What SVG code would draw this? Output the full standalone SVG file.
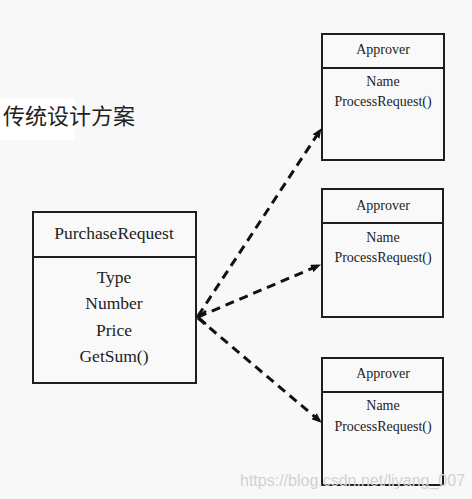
<svg xmlns="http://www.w3.org/2000/svg" width="472" height="499" viewBox="0 0 472 499">
<style>
.box{fill:#f9f9f9;stroke:#1e1e1e;stroke-width:2}
.div{stroke:#1e1e1e;stroke-width:2}
.t{font-family:"Liberation Serif","Times New Roman",serif;fill:#222;text-anchor:middle}
.big{font-size:17.5px}
.sm{font-size:14px}
.conn{fill:none;stroke:#111;stroke-width:3;stroke-dasharray:9 6}
</style>
<defs>
<marker id="ah" markerUnits="userSpaceOnUse" markerWidth="10" markerHeight="8" refX="9" refY="4" orient="auto">
<path d="M0,0 L10,4 L0,8 z" fill="#111"/>
</marker>
</defs>
<rect width="472" height="499" fill="#f8f8f8"/>
<rect x="0" y="98" width="75" height="42" fill="#ffffff"/>
<text x="3" y="124" font-family="'Noto Sans CJK SC',sans-serif" font-size="22" fill="#222">传统设计方案</text>

<g id="purchase">
<rect class="box" x="33" y="212" width="163" height="171"/>
<line class="div" x1="33" y1="257" x2="196" y2="257"/>
<text class="t big" x="114" y="239">PurchaseRequest</text>
<text class="t big" x="114" y="283">Type</text>
<text class="t big" x="114" y="309">Number</text>
<text class="t big" x="114" y="336">Price</text>
<text class="t big" x="114" y="362">GetSum()</text>
</g>

<g id="approver1">
<rect class="box" x="322" y="34" width="122" height="126"/>
<line class="div" x1="322" y1="68" x2="444" y2="68"/>
<text class="t sm" x="383" y="54">Approver</text>
<text class="t sm" x="383" y="86">Name</text>
<text class="t sm" x="383" y="106">ProcessRequest()</text>
</g>

<g id="approver2">
<rect class="box" x="322" y="189" width="121" height="128"/>
<line class="div" x1="322" y1="223" x2="443" y2="223"/>
<text class="t sm" x="383" y="210">Approver</text>
<text class="t sm" x="383" y="242">Name</text>
<text class="t sm" x="383" y="262">ProcessRequest()</text>
</g>

<g id="approver3">
<rect class="box" x="322" y="358" width="121" height="127"/>
<line class="div" x1="322" y1="392" x2="443" y2="392"/>
<text class="t sm" x="383" y="378">Approver</text>
<text class="t sm" x="383" y="410">Name</text>
<text class="t sm" x="383" y="431">ProcessRequest()</text>
</g>

<g id="connectors">
<line class="conn" x1="198" y1="316" x2="321" y2="129" marker-end="url(#ah)"/>
<line class="conn" x1="198" y1="317" x2="320" y2="265" marker-end="url(#ah)"/>
<line class="conn" x1="198" y1="318" x2="321" y2="422" marker-end="url(#ah)"/>
<polyline points="206,311 198,317 206,324" fill="none" stroke="#111" stroke-width="2.5"/>
</g>

<text x="240" y="486" font-family="'Liberation Sans',Arial,sans-serif" font-size="16" fill="#d2d2d2">https://blog.csdn.net/liyang_007</text>
</svg>
